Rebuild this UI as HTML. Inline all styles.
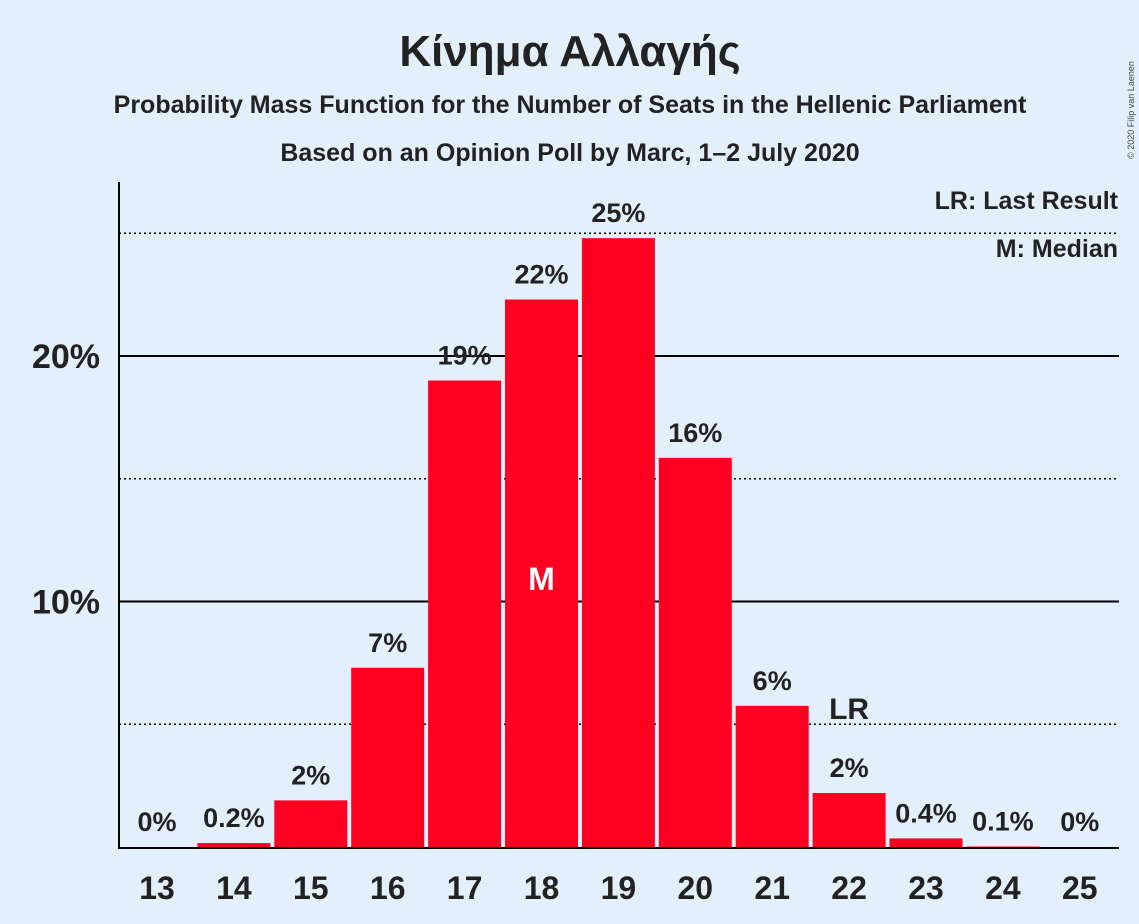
<!DOCTYPE html>
<html><head><meta charset="utf-8"><style>
body{margin:0;background:#E3F0FC;}
svg{display:block;font-family:"Liberation Sans",sans-serif;font-weight:bold;}
</style></head><body>
<svg width="1139" height="924">
<rect width="1139" height="924" fill="#E3F0FC"/>
<text x="570" y="66" font-size="44" text-anchor="middle" fill="#222">Κίνημα Αλλαγής</text>
<text x="570" y="113" font-size="25" text-anchor="middle" fill="#222">Probability Mass Function for the Number of Seats in the Hellenic Parliament</text>
<text x="570" y="161" font-size="25" text-anchor="middle" fill="#222">Based on an Opinion Poll by Marc, 1–2 July 2020</text>
<text x="1134" y="110" font-size="9" font-weight="normal" fill="#444" transform="rotate(-90 1134 110)" text-anchor="middle">© 2020 Filip van Laenen</text>
<g id="grid"></g>
<g id="bars"></g>
<g id="labels"></g>
<line x1="119" y1="182" x2="119" y2="848" stroke="#000" stroke-width="2"/>
<line x1="118" y1="848" x2="1119" y2="848" stroke="#000" stroke-width="2"/>
<text x="1118" y="209" font-size="25" text-anchor="end" fill="#222">LR: Last Result</text>
<text x="1118" y="257" font-size="25" text-anchor="end" fill="#222">M: Median</text>
</svg>
<script>
const seats=[13,14,15,16,17,18,19,20,21,22,23,24,25];
const probs=[0,0.16,1.9,7.3,19.0,22.3,24.8,15.85,5.75,2.2,0.35,0.02,0];
const valueLabels=["0%","0.2%","2%","7%","19%","22%","25%","16%","6%","2%","0.4%","0.1%","0%"];
const yTicks=[10,20];
const yDotted=[5,15,25];
const medianSeat=18, lastResultSeat=22;
const NS="http://www.w3.org/2000/svg";
const x=s=>157+(s-13)*76.9;
const y=v=>847-v*24.55;
function mk(t,a,p){const e=document.createElementNS(NS,t);for(const k in a)e.setAttribute(k,a[k]);document.getElementById(p).appendChild(e);return e;}
yDotted.forEach(v=>{
 const l=mk('line',{x1:119,x2:1119,y1:y(v),y2:y(v),stroke:'#000','stroke-width':1.5,'stroke-dasharray':'2,3'},'grid');
 
 
});
yTicks.forEach(v=>{
 const l=mk('line',{x1:119,x2:1119,y1:y(v),y2:y(v),stroke:'#000','stroke-width':2},'grid');
 
 
 const t=mk('text',{x:100,y:y(v)+12,'font-size':34,'text-anchor':'end',fill:'#222'},'grid');
 t.textContent=v+'%';
 
 
});
seats.forEach((s,i)=>{
 const v=probs[i];
 if(v>0){
  const r=mk('rect',{x:x(s)-36.5,y:y(v),width:73,height:847-y(v),fill:'#FF0022'},'bars');
  
  
 }
 const t=mk('text',{x:x(s),y:y(v)-16,'font-size':27,'text-anchor':'middle',fill:'#222'},'labels');
 t.textContent=valueLabels[i];
 
 
 const xt=mk('text',{x:x(s),y:899,'font-size':32,'text-anchor':'middle',fill:'#222'},'labels');
 xt.textContent=s;
 
 
 if(s===medianSeat){
  const m=mk('text',{x:x(s),y:590,'font-size':32,'text-anchor':'middle',fill:'#fff'},'labels');
  m.textContent='M';
  
  
 }
 if(s===lastResultSeat){
  const m=mk('text',{x:x(s),y:y(v)-74,'font-size':30,'text-anchor':'middle',fill:'#222'},'labels');
  m.textContent='LR';
  
  
 }
});
</script>
</body></html>
